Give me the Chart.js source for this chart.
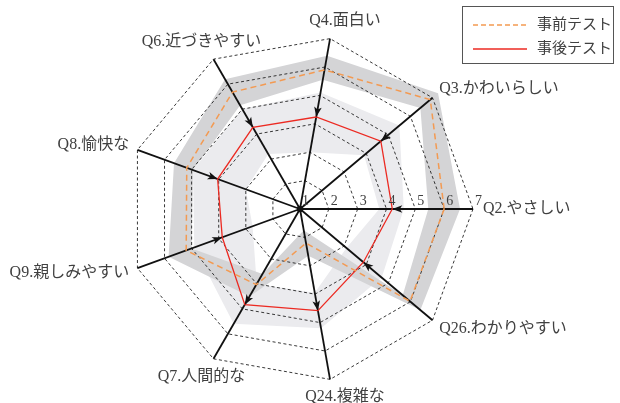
<!DOCTYPE html>
<html lang="ja">
<head>
<meta charset="utf-8">
<title>事前テスト・事後テスト</title>
<script src="https://cdn.jsdelivr.net/npm/chart.js@4/dist/chart.umd.min.js"></script>
<style>
  html, body { margin: 0; padding: 0; background: #fff; }
  #wrap { position: relative; width: 620px; height: 403px; }
</style>
</head>
<body>
<div id="wrap"><canvas id="radar"></canvas></div>
<script>
// axes, clockwise from the right-hand axis
const labels = ["Q2.やさしい", "Q26.わかりやすい", "Q24.複雑な", "Q7.人間的な",
  "Q9.親しみやすい", "Q8.愉快な", "Q6.近づきやすい", "Q4.面白い", "Q3.かわいらしい"];

const preTest  = [6.0, 5.98, 2.2, 4.03, 5.2, 5.18, 5.68, 5.9, 6.9];
const postTest = [4.2, 3.87, 4.58, 4.83, 3.87, 4.04, 4.27, 4.24, 4.66];

// grey bands round each series
const preLow   = [5.45, 5.65, 1.75, 3.6, 5.0, 4.95, 5.15, 5.55, 6.45];
const preHigh  = [6.55, 6.45, 2.65, 4.5, 5.85, 5.65, 6.2, 6.4, 7.25];
const postLow  = [3.75, 3.1, 3.95, 4.0, 2.75, 3.0, 3.2, 3.0, 3.9];
const postHigh = [4.6, 4.7, 5.2, 5.6, 4.9, 4.95, 5.0, 5.1, 5.5];

const tickValues = [1, 2, 3, 4, 5, 6, 7];
const legendItems = ["事前テスト", "事後テスト"];

const FONT = "'Liberation Serif', 'Noto Sans CJK JP', serif";
const TEXT = "#404040";
const PRE_COLOR = "#f39a52";
const POST_COLOR = "#ec2a22";

function drawBand(ctx, r, low, high, color) {
  ctx.beginPath();
  [high, low].forEach(arr => {
    arr.forEach((v, i) => {
      const p = r.getPointPositionForValue(i, v);
      if (i === 0) ctx.moveTo(p.x, p.y);
      else ctx.lineTo(p.x, p.y);
    });
    ctx.closePath();
  });
  ctx.fillStyle = color;
  ctx.fill("evenodd");
}

const bands = {
  id: "bands",
  beforeDraw(chart) {
    const ctx = chart.ctx;
    const r = chart.scales.r;
    ctx.save();
    drawBand(ctx, r, postLow, postHigh, "#ebebee");
    drawBand(ctx, r, preLow, preHigh, "#d4d4d6");
    ctx.restore();
  }
};

const overlay = {
  id: "overlay",
  afterDraw(chart) {
    const ctx = chart.ctx;
    const r = chart.scales.r;
    const cx = r.xCenter, cy = r.yCenter;

    ctx.save();

    // arrowheads: pre -> post along each axis
    ctx.fillStyle = "#111";
    labels.forEach((_, i) => {
      const tip = r.getPointPositionForValue(i, postTest[i]);
      const len = Math.hypot(tip.x - cx, tip.y - cy);
      const s = postTest[i] > preTest[i] ? 1 : -1;
      const dx = s * (tip.x - cx) / len, dy = s * (tip.y - cy) / len;
      const bx = tip.x - dx * 10, by = tip.y - dy * 10;
      ctx.beginPath();
      ctx.moveTo(tip.x, tip.y);
      ctx.lineTo(bx - dy * 3.8, by + dx * 3.8);
      ctx.lineTo(bx + dx * 2.5, by + dy * 2.5);
      ctx.lineTo(bx + dy * 3.8, by - dx * 3.8);
      ctx.closePath();
      ctx.fill();
    });

    // centre dot
    ctx.beginPath();
    ctx.arc(cx, cy, 3.2, 0, Math.PI * 2);
    ctx.fill();

    // tick labels along the first axis
    ctx.fillStyle = TEXT;
    ctx.font = "14px " + FONT;
    ctx.textAlign = "left";
    ctx.textBaseline = "bottom";
    tickValues.forEach(v => {
      const p = r.getPointPositionForValue(0, v);
      ctx.fillText(String(v), p.x + 2, p.y - 1);
    });

    // axis labels
    ctx.font = "16px " + FONT;
    ctx.textBaseline = "middle";
    labels.forEach((lab, i) => {
      const p = r.getPointPosition(i, r.drawingArea);
      const len = Math.hypot(p.x - cx, p.y - cy);
      const ux = (p.x - cx) / len, uy = (p.y - cy) / len;
      const pad = 10 - 5 * Math.abs(uy);
      if (ux > 0.6) {
        ctx.textAlign = "left";
        ctx.fillText(lab, p.x + pad, p.y + uy * 14);
      } else if (ux < -0.6) {
        ctx.textAlign = "right";
        ctx.fillText(lab, p.x - pad, p.y + uy * 14);
      } else {
        ctx.textAlign = "center";
        ctx.fillText(lab, p.x + ux * 40 + 8, p.y + Math.sign(uy) * 17.5);
      }
    });

    // legend box
    const lx = chart.width - 158, ly = 6;
    ctx.strokeStyle = "#555";
    ctx.lineWidth = 1;
    ctx.strokeRect(lx + 0.5, ly + 0.5, 151, 57);
    const styles = [
      { color: PRE_COLOR, dash: [5, 3], width: 1.5 },
      { color: POST_COLOR, dash: [], width: 1.3 }
    ];
    ctx.font = "15px " + FONT;
    ctx.textAlign = "left";
    legendItems.forEach((t, k) => {
      const y = ly + 19 + k * 24;
      ctx.strokeStyle = styles[k].color;
      ctx.lineWidth = styles[k].width;
      ctx.setLineDash(styles[k].dash);
      ctx.beginPath();
      ctx.moveTo(lx + 11, y);
      ctx.lineTo(lx + 65, y);
      ctx.stroke();
      ctx.setLineDash([]);
      ctx.fillStyle = TEXT;
      ctx.fillText(t, lx + 75, y);
    });

    ctx.restore();
  }
};

new Chart(document.getElementById("radar"), {
  type: "radar",
  data: {
    labels,
    datasets: [
      {
        label: legendItems[0],
        data: preTest,
        borderColor: PRE_COLOR,
        borderDash: [6, 4],
        borderWidth: 1.5,
        pointRadius: 0,
        fill: false
      },
      {
        label: legendItems[1],
        data: postTest,
        borderColor: POST_COLOR,
        borderWidth: 1.3,
        pointRadius: 0,
        fill: false
      }
    ]
  },
  options: {
    responsive: true,
    maintainAspectRatio: false,
    animation: false,
    events: [],
    layout: { padding: { left: 127, right: 147, top: 36, bottom: 21 } },
    elements: { line: { tension: 0 } },
    plugins: {
      legend: { display: false },
      tooltip: { enabled: false }
    },
    scales: {
      r: {
        min: 1,
        max: 7,
        startAngle: 90,
        ticks: { display: false, stepSize: 1 },
        pointLabels: { display: false },
        grid: { color: "#222", lineWidth: 0.9 },
        border: { dash: [3, 2.5] },
        angleLines: { color: "#111", lineWidth: 1.8 }
      }
    }
  },
  plugins: [bands, overlay]
});
</script>
</body>
</html>
